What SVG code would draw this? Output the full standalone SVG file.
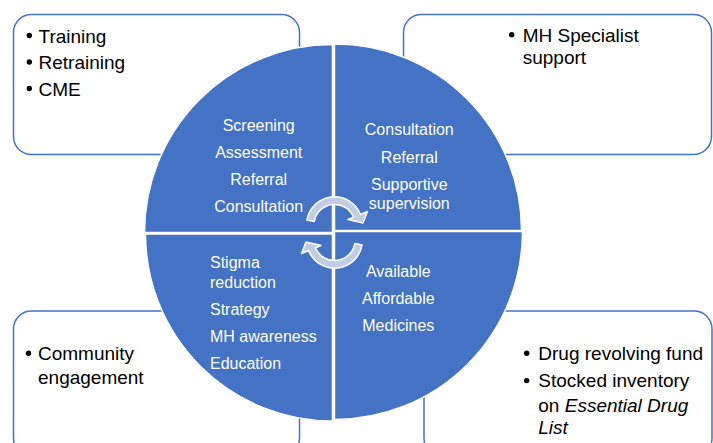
<svg xmlns="http://www.w3.org/2000/svg" width="713" height="443" viewBox="0 0 713 443">
  <defs>
    <style>
      .box { fill: #FFFFFF; stroke: #4472C4; stroke-width: 1.5; }
      .quad { fill: #4472C4; stroke: #FFFFFF; stroke-width: 1.5; }
      .cyc { fill: #C3CCE7; stroke: #FFFFFF; stroke-width: 1.5; stroke-linejoin: round; }
      .bt { font-family: "Liberation Sans", Arial, sans-serif; font-size: 19px; fill: #000000; }
      .qt { font-family: "Liberation Sans", Arial, sans-serif; font-size: 16px; fill: #FFFFFF; }
      .mid { text-anchor: middle; }
      .dot { fill: #000000; }
    </style>
    <!-- circular arrow shape, pointing clockwise -->
    <path id="cycArrow" d="M 306.9 220.1 A 28 28 0 0 1 360.5 214.5 L 367.5 211.5 L 363 223 L 348 219.5 L 353.5 217.3 A 20.5 20.5 0 0 0 314.3 221.4 Z"/>
  </defs>

  <!-- corner boxes -->
  <g id="box-training">
    <rect class="box" x="13.5" y="14.5" width="286" height="140" rx="18"/>
    <circle class="dot" cx="29.3" cy="35.5" r="2.7"/>
    <circle class="dot" cx="29.3" cy="62" r="2.7"/>
    <circle class="dot" cx="29.3" cy="88.5" r="2.7"/>
    <text class="bt" x="38.5" y="42.5">Training</text>
    <text class="bt" x="38.5" y="69">Retraining</text>
    <text class="bt" x="38.5" y="95.5">CME</text>
  </g>
  <g id="box-specialist">
    <rect class="box" x="403.5" y="14.5" width="308" height="140" rx="18"/>
    <circle class="dot" cx="511.7" cy="34.7" r="2.7"/>
    <text class="bt" x="522.7" y="41.7">MH Specialist</text>
    <text class="bt" x="522.7" y="64">support</text>
  </g>
  <g id="box-community">
    <rect class="box" x="13.5" y="311" width="286" height="145" rx="18"/>
    <circle class="dot" cx="28.5" cy="353.3" r="2.7"/>
    <text class="bt" x="38" y="360">Community</text>
    <text class="bt" x="38" y="384.3">engagement</text>
  </g>
  <g id="box-drugs">
    <rect class="box" x="424" y="311" width="288" height="145" rx="18"/>
    <circle class="dot" cx="526.7" cy="353.3" r="2.7"/>
    <circle class="dot" cx="526.7" cy="380.6" r="2.7"/>
    <text class="bt" x="538.3" y="360">Drug revolving fund</text>
    <text class="bt" x="538.3" y="387.3">Stocked inventory</text>
    <text class="bt" x="538.3" y="411.7">on <tspan font-style="italic">Essential Drug</tspan></text>
    <text class="bt" x="538.3" y="434" font-style="italic">List</text>
  </g>

  <!-- central circle, four quadrants -->
  <g id="q-primary">
    <path class="quad" d="M 332.5 232.5 L 144.5 232.5 A 188 188 0 0 1 332.5 44.5 Z"/>
    <text class="qt mid" x="258.7" y="130.5">Screening</text>
    <text class="qt mid" x="258.7" y="158">Assessment</text>
    <text class="qt mid" x="258.7" y="185">Referral</text>
    <text class="qt mid" x="258.7" y="211.7">Consultation</text>
  </g>
  <g id="q-secondary">
    <path class="quad" d="M 334.5 230.5 L 334.5 44 A 186.5 186.5 0 0 1 521.5 230.5 Z"/>
    <text class="qt mid" x="409.3" y="135">Consultation</text>
    <text class="qt mid" x="409.3" y="162.7">Referral</text>
    <text class="qt mid" x="409.3" y="190">Supportive</text>
    <text class="qt mid" x="409.3" y="208.5">supervision</text>
  </g>
  <g id="q-community">
    <path class="quad" d="M 332.5 234 L 332.5 421 A 187 187 0 0 1 145.5 234 Z"/>
    <text class="qt" x="210" y="268.3">Stigma</text>
    <text class="qt" x="210" y="287.7">reduction</text>
    <text class="qt" x="210" y="315">Strategy</text>
    <text class="qt" x="210" y="341.7">MH awareness</text>
    <text class="qt" x="210" y="369">Education</text>
  </g>
  <g id="q-medicines">
    <path class="quad" d="M 334.5 231.5 L 522.5 231.5 A 188 188 0 0 1 334.5 419.5 Z"/>
    <text class="qt mid" x="398.3" y="276.7">Available</text>
    <text class="qt mid" x="398.3" y="304">Affordable</text>
    <text class="qt mid" x="398.3" y="330.7">Medicines</text>
  </g>

  <!-- connectors: cycle arrows in the centre -->
  <g id="connectors">
    <use href="#cycArrow" class="cyc"/>
    <use href="#cycArrow" class="cyc" transform="rotate(180 334.5 232.5)"/>
  </g>
</svg>
